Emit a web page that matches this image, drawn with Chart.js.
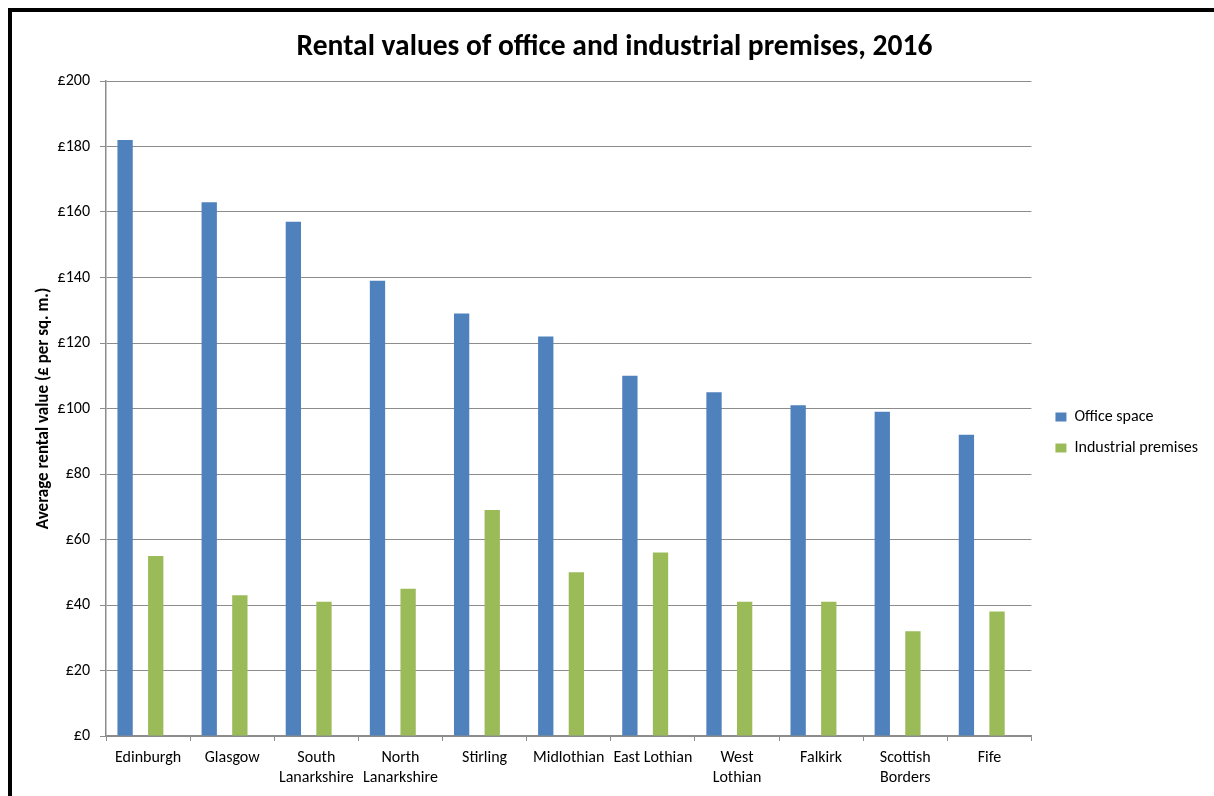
<!DOCTYPE html>
<html>
<head>
<meta charset="utf-8">
<title>Rental values of office and industrial premises, 2016</title>
<script src="https://cdn.jsdelivr.net/npm/chart.js@4.4.1/dist/chart.umd.min.js"></script>
<style>
  html, body { margin: 0; padding: 0; background: #fff; overflow: hidden; }
  #frame {
    position: absolute; left: 8px; top: 8px;
    width: 1400px; height: 1000px;
    border: 4px solid #000;
  }
  #wrap { position: absolute; left: 0; top: 0; width: 1202px; height: 784px; }
</style>
</head>
<body>
<div id="frame">
  <div id="wrap"><canvas id="rentChart"></canvas></div>
</div>
<script>
// Average rental value, £ per sq. m., 2016
const areas = [
  'Edinburgh', 'Glasgow', ['South', 'Lanarkshire'], ['North', 'Lanarkshire'],
  'Stirling', 'Midlothian', 'East Lothian', ['West', 'Lothian'], 'Falkirk',
  ['Scottish', 'Borders'], 'Fife'
];
const officeSpace = [182, 163, 157, 139, 129, 122, 110, 105, 101, 99, 92];
const industrialPremises = [55, 43, 41, 45, 69, 50, 56, 41, 41, 32, 38];
const yTicks = [0, 20, 40, 60, 80, 100, 120, 140, 160, 180, 200];

const FONT = 'Carlito, Lato, "Open Sans", sans-serif';
const GRID = '#8c8c8c';

// moves the legend block a little away from the plot, once layout is done
const legendNudge = {
    id: 'legendNudge',
    afterLayout(chart, args, opts) {
        const lg = chart.legend;
        if (!lg) return;
        lg.left += opts.dx; lg.right += opts.dx;
        lg.top += opts.dy; lg.bottom += opts.dy;
    }
};

document.addEventListener('DOMContentLoaded', function() {
    const ctx = document.getElementById('rentChart');

    new Chart(ctx, {
        type: 'bar',
        data: {
            labels: areas,
            datasets: [{
                label: 'Office space',
                data: officeSpace,
                backgroundColor: '#4f81bd'
            }, {
                // empty spacer series, keeps the gap between the two columns
                label: '',
                data: []
            }, {
                label: 'Industrial premises',
                data: industrialPremises,
                backgroundColor: '#9bbb59'
            }, {
                label: '',
                data: []
            }]
        },
        plugins: [legendNudge],
        options: {
            responsive: true,
            maintainAspectRatio: false,
            animation: false,
            categoryPercentage: 0.728,
            barPercentage: 1,
            layout: { padding: { left: 18, right: 15, top: 0, bottom: 1 } },
            plugins: {
                title: {
                    display: true,
                    text: 'Rental values of office and industrial premises, 2016',
                    color: '#000',
                    font: { family: FONT, size: 29.5, weight: 'bold', lineHeight: 1.2 },
                    padding: { top: 18, bottom: 15.6 }
                },
                legend: {
                    position: 'right',
                    labels: {
                        color: '#000',
                        font: { family: FONT, size: 16 },
                        boxWidth: 11,
                        boxHeight: 9,
                        padding: 15,
                        filter: item => item.text !== ''
                    }
                },
                legendNudge: { dx: 9, dy: 29 },
                tooltip: { enabled: false }
            },
            scales: {
                x: {
                    grid: {
                        offset: true,
                        drawOnChartArea: false,
                        drawTicks: true,
                        tickLength: 5,
                        color: GRID
                    },
                    border: { display: true, color: GRID, width: 1.5 },
                    ticks: {
                        color: '#000',
                        font: { family: FONT, size: 16, lineHeight: 1.25 },
                        padding: 7,
                        maxRotation: 0,
                        autoSkip: false
                    }
                },
                y: {
                    min: 0,
                    max: 200,
                    afterBuildTicks: axis => {
                        axis.ticks = yTicks.map(v => ({ value: v }));
                    },
                    afterFit: axis => { axis.width = 76; },
                    grid: {
                        color: GRID,
                        tickLength: 6,
                        drawTicks: true
                    },
                    border: { display: true, color: GRID, width: 1.5 },
                    ticks: {
                        color: '#000',
                        font: { family: FONT, size: 16 },
                        padding: 10,
                        callback: v => '£' + v
                    },
                    title: {
                        display: true,
                        text: 'Average rental value (£ per sq. m.)',
                        color: '#000',
                        font: { family: FONT, size: 17, weight: 'bold', lineHeight: 1.2 },
                        padding: { top: 4, bottom: 4 }
                    }
                }
            }
        }
    });
});
</script>
</body>
</html>
